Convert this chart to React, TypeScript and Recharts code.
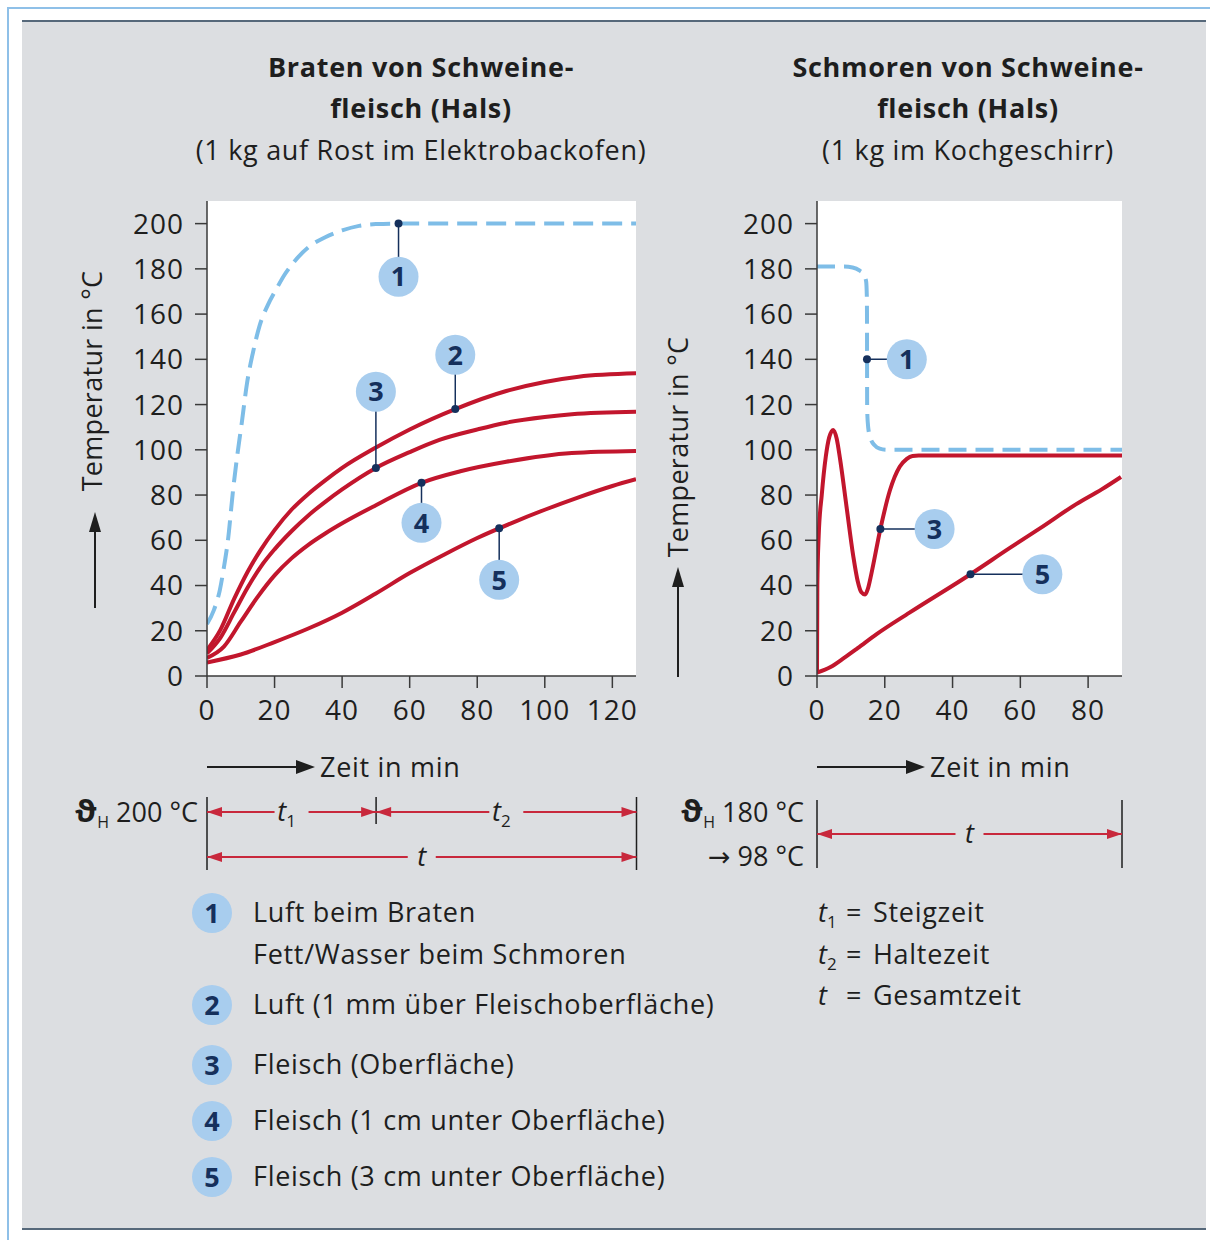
import React from 'react';
import { LineChart, Line, XAxis, YAxis, CartesianGrid, ReferenceLine, ReferenceDot } from 'recharts';

const FONT = '"Open Sans", "DejaVu Sans", sans-serif';
const RED = '#c2162d';
const BLUE = '#7ebde7';
const NAVY = '#15305c';
const BUBBLE = '#a8cdee';
const DARK = '#1e1e1e';
const LS = 0.7;

// ---------- data ----------
const yTicks = [0, 20, 40, 60, 80, 100, 120, 140, 160, 180, 200];
const leftXTicks = [0, 20, 40, 60, 80, 100, 120];
const rightXTicks = [0, 20, 40, 60, 80];

// Braten (left)
const bratenLuft: [number, number][] = [
  [0, 23], [2, 29], [3.8, 38], [5, 48], [6.2, 60], [7.7, 82], [9, 98], [10.3, 112], [11.8, 129], [13.6, 143],
  [15.6, 155], [18, 164], [20.5, 171], [23, 177.5], [26, 183.5], [30, 189.5], [35, 194], [40, 197], [45, 199],
  [50, 199.8], [56.7, 200], [127, 200],
];
const bratenLuft1mm: [number, number][] = [
  [0, 11.5], [4, 20.5], [8, 34], [12, 46], [16, 56], [20, 64.5], [25, 73.5], [30, 80.5], [35, 86.5], [40, 92],
  [50, 101], [60, 109], [73.5, 118], [88.6, 126], [100, 130], [110, 132.3], [127, 133.8],
];
const bratenOberflaeche: [number, number][] = [
  [0, 10], [4, 17], [8, 28], [12, 39], [16, 48.5], [20, 56], [25, 64], [30, 71], [35, 77], [40, 82.5],
  [50, 92], [60, 99], [68.8, 104.4], [80, 109], [88.6, 112], [100, 114.5], [108, 115.7], [127, 116.8],
];
const braten1cm: [number, number][] = [
  [0, 8], [5, 13], [10, 24], [15, 35], [20, 44.5], [25, 52], [30, 58], [35, 63], [40, 67.5], [50, 75.5],
  [63.5, 85.4], [75, 90.5], [88.6, 94.7], [108, 98.6], [127, 99.5],
];
const braten3cm: [number, number][] = [
  [0, 6], [10, 9.5], [20, 15], [30, 21], [40, 28], [50, 36.5], [60, 45.5], [70, 53.5], [80, 61], [90, 67.5],
  [100, 73.5], [110, 79], [120, 84], [127, 87],
];

// Schmoren (right)
const schmorenFett: [number, number][] = [
  [0, 181], [8, 181], [10.5, 180.6], [12.5, 179.3], [13.8, 177.5], [14.5, 174.5], [14.7, 168], [14.75, 160],
  [14.8, 118], [15.1, 110], [15.8, 105], [17, 102], [18.5, 100.5], [20.5, 100], [90, 100],
];
const schmorenOberflaeche: [number, number][] = [
  [0, 1], [0.1, 40], [0.5, 62], [1.4, 80], [2.6, 97], [3.6, 105.5], [4.8, 108.8], [5.8, 105], [6.8, 96],
  [8.7, 75], [10.7, 53], [12, 42], [13.1, 37], [14.2, 36], [15, 38.5], [16.1, 45.6], [18.7, 65], [21.5, 82],
  [24.4, 92.5], [26.5, 96], [28.2, 97.3], [30, 97.5], [90, 97.5],
];
const schmoren3cm: [number, number][] = [
  [0, 1.5], [4, 4], [8, 8], [12, 12.3], [17.6, 18.5], [27.3, 28], [45.3, 45], [56.8, 56.5], [66, 65.5],
  [76.5, 76], [84, 82.5], [89.7, 88],
];

// callouts: number, marker point, bubble centre
const leftCallouts = [
  { n: '1', mx: 56.7, my: 200, cx: 56.7, cy: 176.5 },
  { n: '2', mx: 73.5, my: 118, cx: 73.5, cy: 142 },
  { n: '3', mx: 50, my: 92, cx: 50, cy: 125.7 },
  { n: '4', mx: 63.5, my: 85.4, cx: 63.5, cy: 67.7 },
  { n: '5', mx: 86.5, my: 65.3, cx: 86.5, cy: 42.5 },
];
const rightCallouts = [
  { n: '1', mx: 14.75, my: 140, cx: 26.5, cy: 140 },
  { n: '3', mx: 18.7, my: 65, cx: 34.7, cy: 65 },
  { n: '5', mx: 45.3, my: 45, cx: 66.5, cy: 45 },
];

const legendItems = [
  { n: '1', lines: ['Luft beim Braten', 'Fett/Wasser beim Schmoren'] },
  { n: '2', lines: ['Luft (1 mm über Fleischoberfläche)'] },
  { n: '3', lines: ['Fleisch (Oberfläche)'] },
  { n: '4', lines: ['Fleisch (1 cm unter Oberfläche)'] },
  { n: '5', lines: ['Fleisch (3 cm unter Oberfläche)'] },
];
const legendY = [913, 1005, 1065, 1121, 1177];

const leftTitle = ['Braten von Schweine-', 'fleisch (Hals)', '(1 kg auf Rost im Elektrobackofen)'];
const rightTitle = ['Schmoren von Schweine-', 'fleisch (Hals)', '(1 kg im Kochgeschirr)'];

const LEFT_XMAX = 127;
const RIGHT_XMAX = 90;
const T1_END = 50;

// ---------- geometry ----------
const PLOT_TOP = 201;
const L_PL = 207;
const L_PR = 636.5;
const R_PL = 817;
const R_PR = 1122;

const toPts = (a: [number, number][]) => a.map(([x, y]) => ({ x, y }));

function Bubble({ cx, cy, n }: { cx: number; cy: number; n: string }) {
  return (
    <g>
      <circle cx={cx} cy={cy} r={20} fill={BUBBLE} />
      <text x={cx} y={cy} dy="0.36em" textAnchor="middle" fontFamily={FONT} fontWeight={700} fontSize={27} fill={NAVY}>
        {n}
      </text>
    </g>
  );
}

type Series = { data: [number, number][]; color: string; dash?: string };

function Panel({ left, width, marginLeft, xMax, xTicks, series, callouts }: {
  left: number; width: number; marginLeft: number; xMax: number; xTicks: number[]; series: Series[];
  callouts: typeof leftCallouts;
}) {
  const axisStyle = { stroke: '#3a3a3a', strokeWidth: 1.5 };
  const tickStyle = { fontSize: 28, fill: DARK, fontFamily: FONT, letterSpacing: 1 };
  return (
    <div style={{ position: 'absolute', left, top: 0 }}>
      <LineChart width={width} height={740} margin={{ top: PLOT_TOP, right: 24, left: marginLeft, bottom: 0 }}>
        <CartesianGrid horizontal={false} vertical={false} fill="#ffffff" stroke="none" />
        <XAxis type="number" dataKey="x" domain={[0, xMax]} ticks={xTicks} interval={0} allowDataOverflow
          height={64} tickSize={12} tickMargin={12} tick={tickStyle} axisLine={axisStyle} tickLine={axisStyle} />
        <YAxis type="number" domain={[0, 210]} ticks={yTicks} interval={0} allowDataOverflow
          width={107} tickSize={12} tickMargin={11} tick={tickStyle} axisLine={axisStyle} tickLine={axisStyle} />
        {series.map((s, i) => (
          <Line key={i} data={toPts(s.data)} dataKey="y" type="monotone" stroke={s.color} strokeWidth={4}
            strokeDasharray={s.dash} dot={false} activeDot={false} isAnimationActive={false} />
        ))}
        {callouts.map((c, i) => (
          <ReferenceLine key={'l' + i} segment={[{ x: c.mx, y: c.my }, { x: c.cx, y: c.cy }]} stroke={NAVY} strokeWidth={1.5} />
        ))}
        {callouts.map((c, i) => (
          <ReferenceDot key={'m' + i} x={c.mx} y={c.my} r={4} fill={NAVY} stroke="none" />
        ))}
        {callouts.map((c, i) => (
          <ReferenceDot key={'b' + i} x={c.cx} y={c.cy} r={20}
            shape={(p: any) => <Bubble cx={p.cx} cy={p.cy} n={c.n} />} />
        ))}
      </LineChart>
    </div>
  );
}

function DimLine({ x1, x2, y, label, sub }: { x1: number; x2: number; y: number; label: string; sub?: string }) {
  const mid = (x1 + x2) / 2;
  const gap = sub ? 17 : 14;
  const ah = 15;
  const c = '#c8283c';
  return (
    <g>
      <line x1={x1} y1={y} x2={mid - gap} y2={y} stroke={c} strokeWidth={2} />
      <line x1={mid + gap} y1={y} x2={x2} y2={y} stroke={c} strokeWidth={2} />
      <polygon points={`${x1},${y} ${x1 + ah},${y - 5} ${x1 + ah},${y + 5}`} fill={c} />
      <polygon points={`${x2},${y} ${x2 - ah},${y - 5} ${x2 - ah},${y + 5}`} fill={c} />
      <text x={sub ? mid - 5 : mid} y={y + 9} textAnchor="middle" fontFamily={FONT} fontSize={27} fill={DARK}>
        <tspan fontStyle="italic">{label}</tspan>
        {sub && <tspan fontSize={17} dy={6}>{sub}</tspan>}
      </text>
    </g>
  );
}

function T(props: any) {
  return <text fontFamily={FONT} fontSize={27} fill={DARK} letterSpacing={LS} {...props} />;
}

function Background() {
  const lx = (v: number) => L_PL + (v / LEFT_XMAX) * (L_PR - L_PL);
  return (
    <svg width={1214} height={1240} style={{ position: 'absolute', left: 0, top: 0 }}>
      <rect x={0} y={0} width={1214} height={1240} fill="#ffffff" />
      <line x1={7} y1={8} x2={1210} y2={8} stroke="#8fc0e8" strokeWidth={2} />
      <line x1={8} y1={8} x2={8} y2={1240} stroke="#8fc0e8" strokeWidth={2} />
      <rect x={22} y={20} width={1184} height={1210} fill="#dcdee1" />
      <line x1={22} y1={21} x2={1206} y2={21} stroke="#56687a" strokeWidth={2} />
      <line x1={22} y1={1229} x2={1206} y2={1229} stroke="#56687a" strokeWidth={2} />

      {/* titles */}
      {leftTitle.map((t, i) => (
        <T key={'lt' + i} x={421} y={67 + i * 41.5} dy="0.36em" textAnchor="middle" fontWeight={i < 2 ? 700 : 400}>{t}</T>
      ))}
      {rightTitle.map((t, i) => (
        <T key={'rt' + i} x={968} y={67 + i * 41.5} dy="0.36em" textAnchor="middle" fontWeight={i < 2 ? 700 : 400}>{t}</T>
      ))}

      {/* y labels */}
      <T transform="translate(102,381) rotate(-90)" textAnchor="middle" letterSpacing={0.3}>Temperatur in °C</T>
      <line x1={95} y1={608} x2={95} y2={528} stroke={DARK} strokeWidth={2} />
      <polygon points="95,512 89,532 101,532" fill={DARK} />
      <T transform="translate(688,447) rotate(-90)" textAnchor="middle" letterSpacing={0.3}>Temperatur in °C</T>
      <line x1={678} y1={677} x2={678} y2={583} stroke={DARK} strokeWidth={2} />
      <polygon points="678,567 672,587 684,587" fill={DARK} />

      {/* x labels */}
      <line x1={L_PL} y1={767} x2={300} y2={767} stroke={DARK} strokeWidth={2} />
      <polygon points="296,760 315,767 296,774" fill={DARK} />
      <T x={320} y={767} dy="0.36em">Zeit in min</T>
      <line x1={R_PL} y1={767} x2={910} y2={767} stroke={DARK} strokeWidth={2} />
      <polygon points="906,760 925,767 906,774" fill={DARK} />
      <T x={930} y={767} dy="0.36em">Zeit in min</T>

      {/* left dimension block */}
      <T x={198} y={812} dy="0.36em" textAnchor="end" letterSpacing={0}>
        <tspan fontWeight={700} fontSize={31}>ϑ</tspan>
        <tspan fontSize={16} dy={6}>H</tspan>
        <tspan dy={-6}> 200 °C</tspan>
      </T>
      <line x1={L_PL} y1={797} x2={L_PL} y2={870} stroke={DARK} strokeWidth={1.5} />
      <line x1={lx(T1_END)} y1={797} x2={lx(T1_END)} y2={824} stroke={DARK} strokeWidth={1.5} />
      <line x1={L_PR} y1={797} x2={L_PR} y2={870} stroke={DARK} strokeWidth={1.5} />
      <DimLine x1={L_PL} x2={lx(T1_END)} y={812} label="t" sub="1" />
      <DimLine x1={lx(T1_END)} x2={L_PR} y={812} label="t" sub="2" />
      <DimLine x1={L_PL} x2={L_PR} y={857} label="t" />

      {/* right dimension block */}
      <T x={804} y={812} dy="0.36em" textAnchor="end" letterSpacing={0}>
        <tspan fontWeight={700} fontSize={31}>ϑ</tspan>
        <tspan fontSize={16} dy={6}>H</tspan>
        <tspan dy={-6}> 180 °C</tspan>
      </T>
      <T x={804} y={856} dy="0.36em" textAnchor="end" letterSpacing={0}>→ 98 °C</T>
      <line x1={R_PL} y1={800} x2={R_PL} y2={868} stroke={DARK} strokeWidth={1.5} />
      <line x1={R_PR} y1={800} x2={R_PR} y2={868} stroke={DARK} strokeWidth={1.5} />
      <DimLine x1={R_PL} x2={R_PR} y={834} label="t" />

      {/* legend */}
      {legendItems.map((it, i) => (
        <g key={'lg' + i}>
          <Bubble cx={212} cy={legendY[i]} n={it.n} />
          {it.lines.map((ln, j) => (
            <T key={j} x={253} y={legendY[i] - 1 + j * 42} dy="0.36em">{ln}</T>
          ))}
        </g>
      ))}
      {[
        { t: 't', s: '1', d: 'Steigzeit', y: 912 },
        { t: 't', s: '2', d: 'Haltezeit', y: 954 },
        { t: 't', s: '', d: 'Gesamtzeit', y: 995 },
      ].map((r, i) => (
        <g key={'rl' + i}>
          <T x={818} y={r.y} dy="0.36em" letterSpacing={0}>
            <tspan fontStyle="italic">{r.t}</tspan>
            {r.s && <tspan fontSize={17} dy={6}>{r.s}</tspan>}
          </T>
          <T x={846} y={r.y} dy="0.36em">=</T>
          <T x={873} y={r.y} dy="0.36em">{r.d}</T>
        </g>
      ))}
    </svg>
  );
}

export default function App() {
  return (
    <div style={{ position: 'absolute', left: 0, top: 0, width: 1214, height: 1240, overflow: 'hidden', background: '#fff' }}>
      <Background />
      <Panel left={0} width={660} marginLeft={100} xMax={LEFT_XMAX} xTicks={leftXTicks}
        series={[
          { data: bratenLuft, color: BLUE, dash: '20 9' },
          { data: bratenLuft1mm, color: RED },
          { data: bratenOberflaeche, color: RED },
          { data: braten1cm, color: RED },
          { data: braten3cm, color: RED },
        ]}
        callouts={leftCallouts} />
      <Panel left={700} width={446} marginLeft={10} xMax={RIGHT_XMAX} xTicks={rightXTicks}
        series={[
          { data: schmorenFett, color: BLUE, dash: '18 9' },
          { data: schmorenOberflaeche, color: RED },
          { data: schmoren3cm, color: RED },
        ]}
        callouts={rightCallouts} />
    </div>
  );
}
